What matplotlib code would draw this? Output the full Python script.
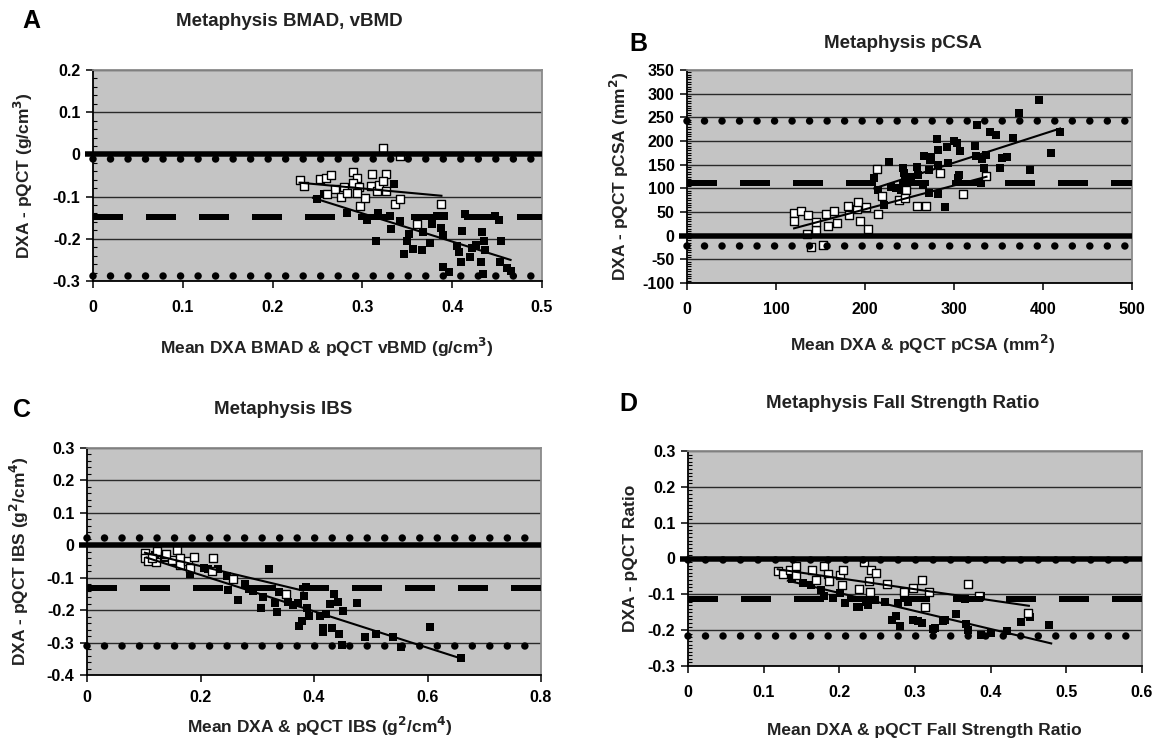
import numpy as np
import matplotlib
matplotlib.use("Agg")
import matplotlib.pyplot as plt
from matplotlib.ticker import MultipleLocator

plt.rcParams["font.family"] = ["Liberation Sans", "DejaVu Sans"]
plt.rcParams["font.weight"] = "bold"
plt.rcParams["lines.scale_dashes"] = False

W, H = 1162, 748
BG = "#c4c4c4"

# ---- Panel A: BMAD vs vBMD ----
a_open_x = [0.230, 0.235, 0.253, 0.260, 0.265, 0.269, 0.261, 0.276, 0.280, 0.290, 0.294, 0.289,
            0.296, 0.297, 0.303, 0.311, 0.310, 0.316, 0.319, 0.326, 0.323, 0.326, 0.336, 0.342,
            0.387, 0.361, 0.323, 0.342, 0.283, 0.294]
a_open_y = [-0.061, -0.074, -0.059, -0.056, -0.049, -0.083, -0.095, -0.102, -0.078, -0.041, -0.056, -0.067,
            -0.078, -0.123, -0.103, -0.046, -0.075, -0.087, -0.073, -0.046, -0.062, -0.087, -0.117, -0.105,
            -0.117, -0.165, 0.014, -0.004, -0.091, -0.091]
a_fill_x = [0.249, 0.257, 0.283, 0.305, 0.315, 0.317, 0.331, 0.332, 0.342, 0.346, 0.350, 0.352,
            0.356, 0.366, 0.368, 0.375, 0.377, 0.383, 0.387, 0.390, 0.390, 0.396, 0.405, 0.408,
            0.410, 0.411, 0.414, 0.420, 0.426, 0.432, 0.433, 0.435, 0.434, 0.437, 0.452, 0.454,
            0.453, 0.461, 0.391, 0.335, 0.422, 0.465, 0.448]
a_fill_y = [-0.106, -0.094, -0.140, -0.155, -0.206, -0.139, -0.147, -0.177, -0.159, -0.237, -0.206, -0.189,
            -0.224, -0.226, -0.183, -0.210, -0.165, -0.147, -0.175, -0.190, -0.267, -0.278, -0.218, -0.232,
            -0.256, -0.181, -0.141, -0.242, -0.214, -0.256, -0.184, -0.206, -0.283, -0.226, -0.155, -0.206,
            -0.254, -0.270, -0.146, -0.071, -0.222, -0.276, -0.147]
a_open_trend = ([0.230, 0.388], [-0.067, -0.098])
a_fill_trend = ([0.245, 0.465], [-0.103, -0.250])
a_limits = (-0.148, -0.010, -0.288)  # mean, upper, lower

# ---- Panel B: pCSA ----
b_open_x = [120.3, 120.3, 128.6, 136.1, 134.6, 139.8, 144.7, 145.5, 152.3, 156.0, 158.6, 165.4,
            168.0, 180.5, 182.3, 190.6, 192.5, 194.4, 201.1, 203.0, 213.2, 214.3, 218.8, 238.7,
            246.2, 244.4, 258.3, 268.0, 283.8, 310.5, 336.5]
b_open_y = [48.5, 31.6, 52.7, 42.9, 3.5, -24.6, 12.0, 29.5, -20.4, 45.7, 20.4, 52.7,
            26.0, 63.3, 43.6, 56.3, 70.3, 31.6, 59.8, 14.1, 139.9, 45.7, 83.7, 75.2,
            96.3, 78.8, 63.3, 63.3, 131.5, 87.9, 126.6]
b_fill_x = [227.4, 210.5, 214.3, 221.8, 229.3, 235.0, 242.5, 243.6, 240.6, 244.4, 251.9, 258.6,
            259.4, 265.0, 265.8, 271.4, 272.6, 274.4, 281.2, 282.0, 282.0, 271.4, 282.0, 290.2,
            292.5, 293.2, 300.0, 303.8, 306.8, 305.3, 323.3, 324.4, 326.3, 331.6, 333.8, 336.1,
            340.2, 347.0, 351.5, 353.4, 359.8, 366.5, 372.9, 385.3, 395.5, 408.6, 419.2, 330.8, 304.5]
b_fill_y = [156.1, 121.0, 96.3, 64.7, 103.4, 99.9, 142.1, 131.5, 96.3, 117.4, 124.5, 144.2,
            128.0, 106.9, 168.1, 138.5, 159.6, 166.7, 203.9, 180.7, 149.1, 89.3, 87.9, 61.2,
            187.8, 152.6, 200.4, 196.2, 178.6, 128.0, 189.2, 168.1, 233.5, 161.0, 142.1, 170.2,
            219.4, 212.4, 142.1, 163.2, 165.3, 206.8, 258.1, 138.5, 286.2, 173.7, 219.4, 110.4, 121.0]
b_open_trend = ([120.3, 336.5], [15.5, 124.5])
b_fill_trend = ([210.5, 419.2], [99.9, 226.4])
b_limits = (111, 242, -22)

# ---- Panel C: IBS ----
c_open_x = [0.102, 0.103, 0.107, 0.122, 0.123, 0.137, 0.150, 0.159, 0.163, 0.163, 0.178, 0.181,
            0.188, 0.222, 0.221, 0.257, 0.351, 0.140, 0.115]
c_open_y = [-0.023, -0.038, -0.048, -0.053, -0.017, -0.033, -0.046, -0.015, -0.040, -0.060, -0.048, -0.069,
            -0.036, -0.038, -0.079, -0.105, -0.151, -0.028, -0.040]
c_fill_x = [0.119, 0.135, 0.152, 0.181, 0.206, 0.213, 0.231, 0.246, 0.249, 0.266, 0.278, 0.285,
            0.292, 0.307, 0.311, 0.321, 0.331, 0.335, 0.339, 0.354, 0.363, 0.372, 0.374, 0.379,
            0.382, 0.386, 0.388, 0.392, 0.410, 0.415, 0.416, 0.422, 0.429, 0.432, 0.436, 0.442,
            0.444, 0.449, 0.451, 0.476, 0.489, 0.509, 0.539, 0.554, 0.604, 0.659]
c_fill_y = [-0.030, -0.038, -0.053, -0.089, -0.069, -0.074, -0.074, -0.094, -0.138, -0.168, -0.118, -0.135,
            -0.140, -0.194, -0.161, -0.074, -0.179, -0.207, -0.145, -0.176, -0.183, -0.179, -0.248, -0.235,
            -0.156, -0.130, -0.194, -0.217, -0.217, -0.255, -0.268, -0.212, -0.181, -0.255, -0.149, -0.176,
            -0.274, -0.309, -0.204, -0.179, -0.282, -0.274, -0.282, -0.315, -0.252, -0.349]
c_open_trend = ([0.102, 0.381], [-0.023, -0.140])
c_fill_trend = ([0.105, 0.659], [-0.038, -0.349])
c_limits = (-0.133, 0.022, -0.312)

# ---- Panel D: Fall Strength Ratio ----
d_open_x = [0.1185, 0.126, 0.135, 0.143, 0.143, 0.164, 0.169, 0.180, 0.185, 0.187, 0.201, 0.203,
            0.205, 0.226, 0.233, 0.239, 0.242, 0.249, 0.241, 0.263, 0.286, 0.298, 0.309, 0.313,
            0.318, 0.370, 0.384, 0.449]
d_open_y = [-0.034, -0.043, -0.032, -0.021, -0.047, -0.031, -0.059, -0.022, -0.044, -0.062, -0.047, -0.074,
            -0.033, -0.086, -0.010, -0.062, -0.031, -0.040, -0.093, -0.072, -0.093, -0.083, -0.061, -0.134,
            -0.093, -0.072, -0.105, -0.152]
d_fill_x = [0.137, 0.152, 0.162, 0.176, 0.180, 0.191, 0.201, 0.207, 0.223, 0.226, 0.235, 0.238,
            0.247, 0.260, 0.269, 0.275, 0.278, 0.280, 0.291, 0.298, 0.304, 0.309, 0.326, 0.340,
            0.354, 0.367, 0.370, 0.387, 0.401, 0.421, 0.440, 0.452, 0.477, 0.366, 0.387, 0.324, 0.337]
d_fill_y = [-0.056, -0.068, -0.074, -0.088, -0.105, -0.111, -0.097, -0.123, -0.134, -0.136, -0.120, -0.129,
            -0.116, -0.120, -0.171, -0.160, -0.125, -0.187, -0.120, -0.171, -0.175, -0.180, -0.194, -0.171,
            -0.154, -0.183, -0.200, -0.214, -0.209, -0.203, -0.178, -0.164, -0.185, -0.114, -0.106, -0.197, -0.174]
d_open_trend = ([0.1185, 0.4505], [-0.030, -0.132])
d_fill_trend = ([0.132, 0.480], [-0.062, -0.237])
d_limits = (-0.113, -0.005, -0.216)

PANELS = [
    dict(letter="A", title="Metaphysis BMAD, vBMD",
         xlabel=r"Mean DXA BMAD & pQCT vBMD (g/cm$^{\mathbf{3}}$)", ylabel=r"DXA - pQCT (g/cm$^{\mathbf{3}}$)",
         rect=(93, 70, 542, 281), xlim=(0, 0.5), ylim=(-0.3, 0.2), xmaj=0.1, ymaj=0.1, ymin=0.02,
         open=(a_open_x, a_open_y), fill=(a_fill_x, a_fill_y),
         otr=a_open_trend, ftr=a_fill_trend, lim=a_limits, xpad=9,
         letter_xy=(31, 21), title_xy=(289, 22), xlabel_xy=(327, 347), ylabel_x=23),
    dict(letter="B", title="Metaphysis pCSA",
         xlabel=r"Mean DXA & pQCT pCSA (mm$^{\mathbf{2}}$)", ylabel=r"DXA - pQCT pCSA (mm$^{\mathbf{2}}$)",
         rect=(687, 70, 1132, 283), xlim=(0, 500), ylim=(-100, 350), xmaj=100, ymaj=50, ymin=5,
         open=(b_open_x, b_open_y), fill=(b_fill_x, b_fill_y),
         otr=b_open_trend, ftr=b_fill_trend, lim=b_limits, xpad=9,
         letter_xy=(638, 44), title_xy=(903, 43), xlabel_xy=(923, 344), ylabel_x=619),
    dict(letter="C", title="Metaphysis IBS",
         xlabel=r"Mean DXA & pQCT IBS (g$^{\mathbf{2}}$/cm$^{\mathbf{4}}$)", ylabel=r"DXA - pQCT IBS (g$^{\mathbf{2}}$/cm$^{\mathbf{4}}$)",
         rect=(87, 448, 541, 675), xlim=(0, 0.8), ylim=(-0.4, 0.3), xmaj=0.2, ymaj=0.1, ymin=0.02,
         open=(c_open_x, c_open_y), fill=(c_fill_x, c_fill_y),
         otr=c_open_trend, ftr=c_fill_trend, lim=c_limits, xpad=6,
         letter_xy=(22, 410), title_xy=(283, 410), xlabel_xy=(320, 726), ylabel_x=19),
    dict(letter="D", title="Metaphysis Fall Strength Ratio",
         xlabel="Mean DXA & pQCT Fall Strength Ratio", ylabel="DXA - pQCT Ratio",
         rect=(688, 451, 1142, 666), xlim=(0, 0.6), ylim=(-0.3, 0.3), xmaj=0.1, ymaj=0.1, ymin=0.01,
         open=(d_open_x, d_open_y), fill=(d_fill_x, d_fill_y),
         otr=d_open_trend, ftr=d_fill_trend, lim=d_limits, xpad=9,
         letter_xy=(628, 404), title_xy=(903, 403), xlabel_xy=(924, 730), ylabel_x=630),
]

fig = plt.figure(figsize=(W / 100, H / 100), dpi=100)
fig.patch.set_facecolor("white")


def px(v):
    return v * 0.72  # pixels -> points at 100 dpi


def num(v, _):
    return "{:g}".format(round(v, 3))


for p in PANELS:
    l, t, r, b = p["rect"]
    ax = fig.add_axes([l / W, 1 - b / H, (r - l) / W, (b - t) / H])
    ax.set_facecolor(BG)
    ax.set_xlim(*p["xlim"])
    ax.set_ylim(*p["ylim"])
    ax.xaxis.set_major_locator(MultipleLocator(p["xmaj"]))
    ax.yaxis.set_major_locator(MultipleLocator(p["ymaj"]))
    ax.yaxis.set_minor_locator(MultipleLocator(p["ymin"]))
    ax.xaxis.set_major_formatter(plt.FuncFormatter(num))
    ax.yaxis.set_major_formatter(plt.FuncFormatter(num))
    ax.grid(axis="y", which="major", color="#2a2a2a", linewidth=1.0, zorder=1)
    ax.set_axisbelow(True)
    for s in ("top", "right"):
        ax.spines[s].set_color("#8a8a8a")
        ax.spines[s].set_linewidth(1.3)
    for s in ("left", "bottom"):
        ax.spines[s].set_color("black")
        ax.spines[s].set_linewidth(1.3)
    ax.tick_params(axis="both", which="major", labelsize=11.5, width=1.1, length=5, direction="out")
    ax.tick_params(axis="y", which="minor", length=3, width=0.8, direction="in")
    ax.tick_params(axis="x", pad=p["xpad"])
    ax.tick_params(axis="y", pad=4)
    for lab in ax.get_xticklabels() + ax.get_yticklabels():
        lab.set_fontweight("bold")

    x0, x1 = p["xlim"]
    ext = (x1 - x0) * 0.018
    mean, upper, lower = p["lim"]
    # zero line
    ax.plot([x0 - ext, x1], [0, 0], color="black", lw=px(5.5), solid_capstyle="butt",
            zorder=5, clip_on=False)
    # mean bias
    ax.plot([x0, x1], [mean, mean], color="black", lw=px(6), linestyle=(0, (px(30), px(23))),
            dash_capstyle="butt", zorder=5)
    # limits of agreement
    for yv in (upper, lower):
        ax.plot([x0, x1], [yv, yv], color="black", lw=px(7.5), linestyle=(0, (0.01, px(17.5))),
                dash_capstyle="round", zorder=5, clip_on=False)

    ax.scatter(*p["fill"], marker="s", s=px(7.5) ** 2, color="black", linewidths=0, zorder=3)
    ax.scatter(*p["open"], marker="s", s=px(7.5) ** 2, facecolor="white", edgecolor="black",
               linewidths=1.0, zorder=4)
    ax.plot(*p["otr"], color="black", lw=1.5, zorder=6)
    ax.plot(*p["ftr"], color="black", lw=1.5, zorder=6)

    fig.text(p["letter_xy"][0] / W, 1 - p["letter_xy"][1] / H, p["letter"], fontsize=18,
             fontweight="bold", ha="center", va="center")
    fig.text(p["title_xy"][0] / W, 1 - p["title_xy"][1] / H, p["title"], fontsize=13.5,
             fontweight="bold", ha="center", va="center", color="#222222")
    fig.text(p["xlabel_xy"][0] / W, 1 - p["xlabel_xy"][1] / H, p["xlabel"], fontsize=12.5,
             fontweight="bold", ha="center", va="center", color="#222222")
    fig.text(p["ylabel_x"] / W, 1 - ((t + b) / 2) / H, p["ylabel"], fontsize=12.5, fontweight="bold",
             ha="center", va="center", rotation=90, color="#222222")

fig.savefig("out.png", dpi=100)
